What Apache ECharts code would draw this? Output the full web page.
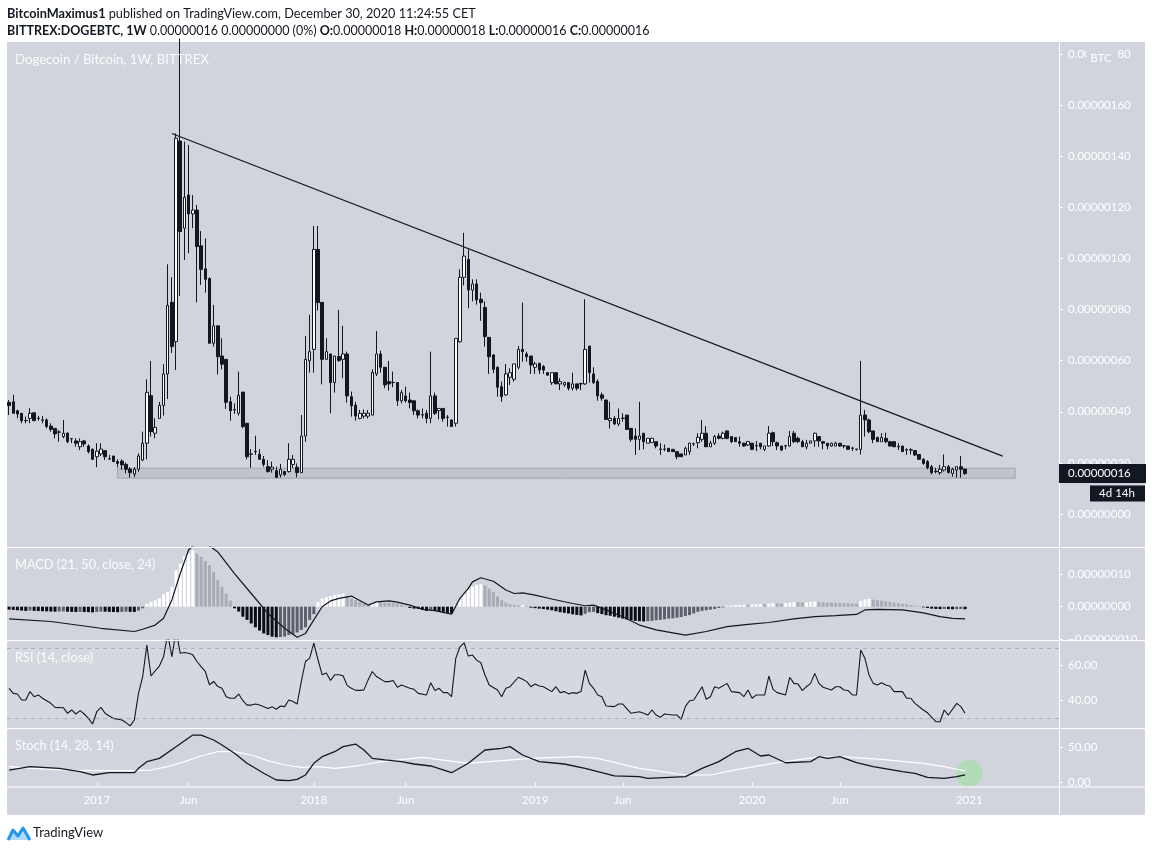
<!DOCTYPE html>
<html><head><meta charset="utf-8">
<script src="https://cdn.jsdelivr.net/npm/echarts@6/dist/echarts.min.js"></script>
<style>html,body{margin:0;padding:0;background:#fff}#c{width:1152px;height:852px}</style>
</head><body><div id="c"></div>
<script>
// ---------- DATA (prices in satoshi = 1e-8 BTC) ----------
const firstWeekUTC = Date.UTC(2016, 7, 8);
const weekCount = 252;
const tickLabels = {'2017-01-02':'2017','2017-06-05':'Jun','2018-01-01':'2018','2018-06-04':'Jun',
  '2019-01-07':'2019','2019-06-03':'Jun','2020-01-06':'2020','2020-06-01':'Jun','2021-01-04':'2021'};

// [open, close, low, high]
const candles = [
[43.7,42.4,38.7,44.6],[43.9,39.4,39.4,46.6],[40.4,39.1,37.4,40.8],[39.4,36.5,35.5,39.4],[36.6,36.5,35.5,38.1],
[37.4,39.4,35.5,41.4],[39.6,36.5,36.5,39.8],[37.5,37.4,36.5,38.4],[36.8,36.7,35.5,38.4],[36.8,34.2,33.5,37.4],
[34.4,33.1,32.2,35.5],[33.5,31.3,29.6,33.5],[32.1,32.0,28.3,32.9],[30.3,31.6,29.6,36.8],[31.6,28.3,27.7,32.0],
[29.5,29.4,27.7,29.5],[28.6,27.7,26.3,29.6],[26.3,28.3,25.0,29.6],[28.6,27.4,26.3,29.0],[26.6,24.4,23.7,27.2],
[25.3,21.4,21.1,25.7],[22.4,24.6,18.3,27.7],[23.5,25.4,22.7,27.7],[24.8,22.4,21.1,25.0],[21.6,21.5,21.1,23.1],
[22.7,20.5,20.5,22.7],[20.5,19.8,18.3,21.4],[20.7,19.2,17.2,21.4],[19.4,17.5,15.9,20.1],[17.6,16.2,14.2,18.3],
[15.6,17.5,14.4,18.3],[17.5,22.7,16.5,23.7],[21.1,27.7,20.7,32.2],[27.7,47.6,21.4,52.7],[46.3,32.2,30.3,59.9],
[31.6,33.9,29.6,37.4],[37.4,42.5,37.4,43.9],[42.5,54.8,38.5,58.6],[54.8,81.6,45.0,97.7],[82.8,65.5,63.0,92.6],
[67.4,147.0,56.3,148.9],[145.9,110.5,85.3,186.0],[111.8,123.9,99.4,145.7],[124.8,117.4,102.0,144.4],[117.4,118.9,111.8,124.8],
[118.9,104.6,82.8,120.9],[104.9,95.7,89.6,110.7],[95.9,91.8,86.6,107.8],[92.1,66.8,66.8,92.6],[66.8,73.6,65.5,81.8],
[73.6,61.5,54.6,73.6],[61.8,58.6,56.6,68.7],[60.5,43.7,41.1,60.5],[43.9,40.4,36.5,45.9],[40.8,40.7,39.1,43.3],
[39.4,46.4,38.5,55.7],[47.7,34.2,33.5,47.7],[35.5,22.4,21.4,35.5],[23.5,23.4,18.1,25.4],[24.5,24.4,23.1,30.6],
[23.4,21.4,21.4,25.4],[21.4,19.4,18.5,22.7],[18.5,16.6,16.2,21.1],[17.5,18.3,16.2,20.5],[16.9,14.3,14.3,18.5],
[15.3,17.5,14.3,19.6],[16.6,15.5,14.8,16.9],[16.6,21.4,16.2,27.7],[19.4,21.4,17.9,23.1],[18.3,16.2,14.3,19.8],
[16.2,30.5,16.2,38.7],[30.5,60.5,28.3,69.6],[59.9,63.5,55.3,77.9],[64.4,103.5,55.3,112.7],[103.5,82.7,79.6,112.7],
[82.8,60.5,50.7,82.8],[60.5,63.5,60.5,68.7],[62.6,51.4,39.4,62.6],[51.4,61.8,47.5,61.8],[61.6,60.0,59.6,79.8],
[60.5,62.6,53.1,73.6],[62.6,46.2,43.6,63.5],[45.9,42.3,38.1,47.9],[42.6,38.3,36.5,43.9],[37.4,39.4,37.0,40.7],
[38.3,39.4,37.4,40.9],[38.3,39.4,37.4,40.7],[38.7,55.4,38.7,56.6],[54.8,62.6,54.0,71.6],[62.6,57.4,55.3,63.9],
[57.4,50.5,49.2,57.4],[51.8,50.9,48.3,59.9],[51.5,51.4,49.6,55.7],[51.4,44.3,42.3,51.4],[44.3,47.5,43.3,48.5],
[46.2,44.3,43.6,49.8],[44.6,43.6,41.3,47.5],[44.3,40.4,38.7,44.3],[40.4,38.7,37.4,40.9],[38.8,38.7,37.4,41.3],
[39.4,37.4,35.5,40.7],[37.4,46.2,35.5,63.5],[46.2,39.4,38.7,47.5],[40.4,41.3,37.0,41.3],[41.3,37.4,36.1,41.3],
[37.9,37.8,34.2,38.7],[36.8,34.2,34.2,36.8],[35.5,68.7,34.2,68.7],[67.4,92.6,67.0,95.7],[92.6,100.9,89.4,110.0],
[99.6,87.6,80.5,103.5],[87.6,90.0,83.2,91.8],[90.0,83.8,81.9,91.8],[84.0,82.7,75.6,86.6],[80.8,69.4,65.5,83.2],
[69.1,61.5,54.8,69.1],[62.2,56.6,55.1,62.6],[57.4,49.6,45.9,57.7],[49.8,45.9,43.9,51.8],[46.6,54.8,46.2,58.7],
[53.5,55.3,50.5,57.0],[52.7,58.7,51.8,58.7],[57.4,64.4,56.6,65.7],[64.4,63.5,59.6,82.7],[62.6,61.5,59.6,63.5],
[61.8,58.3,54.8,61.8],[57.4,58.7,54.8,59.6],[59.0,56.3,54.8,59.0],[57.7,56.3,54.8,58.3],[55.3,54.3,54.3,55.3],
[51.4,55.3,50.5,55.3],[55.3,50.9,50.9,55.3],[50.9,51.8,48.5,53.1],[50.5,51.4,49.8,51.8],[51.4,49.2,48.3,51.4],
[49.2,50.9,48.3,55.3],[50.9,49.2,48.3,50.9],[51.0,50.9,48.5,51.4],[50.9,64.4,50.5,84.0],[65.7,55.3,51.4,65.7],
[54.8,51.4,50.9,57.4],[51.8,46.2,44.3,52.7],[46.6,45.3,44.3,47.5],[44.6,37.0,36.8,44.6],[36.5,37.4,33.5,43.9],
[37.4,35.2,34.8,38.3],[35.2,37.4,34.4,41.3],[37.5,37.4,36.1,39.4],[38.7,33.1,32.9,38.7],[33.5,29.2,28.3,33.5],
[30.5,29.2,23.1,33.5],[29.2,30.5,25.0,43.9],[31.6,28.3,25.3,31.6],[27.7,29.6,27.7,29.6],[28.0,29.6,27.7,29.8],
[28.3,26.6,25.7,28.3],[25.4,25.3,23.1,27.7],[25.4,25.3,24.6,27.2],[25.7,24.4,24.4,25.7],[25.3,24.4,24.4,25.3],
[24.4,22.4,21.4,24.4],[23.5,22.4,22.4,23.5],[23.1,25.7,23.1,26.3],[24.4,27.7,23.1,27.9],[27.4,27.5,26.6,27.9],
[27.9,30.0,25.7,31.6],[29.2,31.6,28.3,36.8],[31.6,26.3,26.3,34.4],[26.3,27.7,26.3,28.6],[27.7,30.3,27.0,30.9],
[30.5,29.6,29.2,31.6],[29.6,31.6,29.2,32.2],[32.5,29.6,29.2,32.5],[30.3,28.3,27.7,30.3],[29.9,28.3,28.3,29.9],
[28.3,27.7,26.3,30.3],[27.7,26.6,26.3,27.9],[27.0,28.3,26.6,28.6],[27.7,25.3,25.0,27.7],[26.7,26.6,24.6,28.6],
[27.7,26.3,25.3,27.7],[25.3,26.6,24.6,26.6],[26.6,31.6,26.3,34.4],[31.8,28.3,26.6,32.2],[27.9,26.6,25.0,28.3],
[26.6,25.0,24.6,26.6],[26.7,26.6,25.3,27.0],[26.6,30.3,26.3,32.5],[31.6,28.3,27.7,32.5],[29.6,28.3,27.7,30.3],
[28.3,26.3,26.3,29.0],[26.3,27.7,25.3,29.0],[27.7,28.6,27.7,28.6],[28.6,31.6,26.3,31.8],[30.3,28.6,26.3,30.3],
[28.3,27.7,25.3,28.6],[27.7,26.6,25.3,27.7],[26.6,27.7,26.3,27.9],[26.6,27.7,26.6,28.3],[27.7,26.6,26.3,27.7],
[26.7,26.6,25.7,26.7],[26.6,25.3,25.0,26.6],[25.8,25.7,24.6,26.3],[25.4,25.3,24.8,25.4],[25.3,38.7,23.3,59.9],
[38.7,36.8,30.3,40.7],[36.8,32.2,31.6,37.4],[32.5,29.2,27.7,32.5],[29.9,28.3,28.3,30.3],[28.3,29.9,28.3,31.6],
[29.6,28.3,27.7,31.8],[28.3,26.6,26.3,28.6],[28.3,26.3,26.3,28.3],[26.4,26.3,25.0,27.7],[26.6,24.4,24.4,26.6],
[25.1,25.0,23.1,25.7],[25.1,25.0,23.3,25.7],[24.8,23.1,22.7,24.8],[23.3,21.4,21.1,23.3],[21.4,19.8,19.2,21.8],
[20.5,18.1,17.5,21.1],[18.5,16.2,15.5,19.2],[16.7,16.6,15.9,18.1],[16.2,17.5,15.3,19.2],[17.2,18.5,16.6,23.3],
[18.5,16.2,15.9,19.2],[15.9,17.5,14.6,18.1],[17.2,18.5,14.2,18.5],[18.5,17.5,14.2,22.7],[17.6,15.8,15.3,17.6]
];

const macdHist = [
-0.9,-1.0,-1.1,-1.2,-1.3,-1.2,-1.3,-1.35,-1.4,-1.45,
-1.5,-1.55,-1.5,-1.45,-1.55,-1.6,-1.65,-1.6,-1.65,-1.7,
-1.75,-1.6,-1.5,-1.55,-1.6,-1.65,-1.7,-1.6,-1.55,-1.6,
-1.65,-1.2,-0.5,0.8,1.5,2.0,2.6,3.8,4.6,6.2,
11.3,13.4,15.7,16.5,17.5,16.5,15.5,14.2,12.9,10.8,
8.3,6.2,4.1,1.9,-0.5,-1.5,-3.1,-4.1,-5.2,-6.4,
-7.4,-8.3,-8.8,-9.3,-9.5,-9.4,-9.3,-8.8,-8.6,-8.0,
-7.2,-6.4,-4.1,-2.3,1.5,2.6,2.9,3.3,3.6,3.9,
4.1,3.3,2.6,2.1,1.5,1.0,0.5,1.2,1.5,1.4,
1.3,1.2,1.1,1.0,0.7,0.3,-0.4,-0.6,-0.7,-1.0,
-1.3,-1.0,-1.3,-1.5,-1.6,-1.9,-2.0,0.5,2.0,3.8,
5.3,6.2,6.8,7.0,6.6,5.6,4.5,3.2,2.0,1.3,
0.8,0.6,0.4,0.5,0.2,-0.3,-0.45,-0.6,-0.75,-0.9,
-1.1,-1.4,-1.7,-1.9,-2.1,-2.35,-2.55,-2.7,-2.2,-1.7,
-1.6,-2.0,-2.3,-2.65,-2.8,-3.1,-3.4,-3.7,-4.0,-4.2,
-4.4,-4.5,-4.6,-4.5,-4.4,-4.2,-4.1,-3.9,-3.7,-3.6,
-3.4,-3.2,-2.9,-2.6,-2.1,-1.6,-1.3,-1.1,-0.9,-0.7,
-0.4,-0.2,0.3,0.4,0.5,0.55,0.6,0.55,0.7,0.8,
0.85,0.8,1.0,1.1,1.05,1.0,1.1,1.3,1.4,1.35,
1.3,1.4,1.5,1.6,1.5,1.4,1.3,1.25,1.2,1.15,
1.1,1.05,1.0,0.95,1.8,2.3,2.4,2.2,2.0,1.9,
1.7,1.5,1.3,1.1,0.9,0.7,0.5,0.3,0.1,-0.2,
-0.4,-0.6,-0.7,-0.75,-0.7,-0.75,-0.8,-0.75,-0.7,-0.8
];

// [week index, value]
const macdLine = [[0,-3.8],[10,-4.6],[18,-6.0],[22,-6.7],[30,-7.7],[32,-7.0],[35,-5.7],[37,-3.6],[39,2.1],[41,10.3],
[43,17.6],[45,20.1],[47,19.8],[50,17.0],[54,10.3],[58,4.1],[62,-2.1],[66,-6.7],[69,-9.5],[71,-8.3],[73,-4.1],[75,0.0],
[77,1.8],[79,2.6],[82,3.3],[86,0.5],[88,1.5],[91,1.8],[93,1.4],[96,0.5],[99,-0.8],[102,-1.2],[106,-2.3],[108,2.6],
[110,5.7],[111,7.7],[113,9.0],[116,7.9],[119,5.2],[121,4.1],[123,4.3],[126,3.6],[130,2.4],[135,1.0],[138,0.3],[140,0.5],
[143,-1.0],[147,-3.1],[151,-5.7],[155,-7.2],[162,-8.8],[167,-7.7],[172,-6.2],[177,-5.5],[182,-4.9],[188,-3.8],[193,-3.1],
[198,-2.8],[203,-2.4],[205,-1.0],[208,-0.8],[214,-1.0],[219,-1.9],[223,-3.1],[226,-3.6],[229,-3.8]];

const rsiLine = [[0,47.1],[1,44.2],[2,43.8],[3,40.4],[4,40.4],[5,45.2],[6,42.3],[7,43.3],[8,41.4],[10,38.5],[11,36.2],
[13,36.0],[14,32.8],[15,34.7],[16,32.4],[17,34.3],[18,32.4],[19,29.9],[20,26.7],[21,33.7],[22,36.2],[23,32.8],[24,31.3],
[25,29.9],[27,29.0],[28,27.5],[29,25.6],[30,29.0],[31,44.2],[32,53.7],[33,71.8],[34,54.1],[35,57.1],[36,59.8],[37,65.1],
[38,78],[39,65.1],[40,80],[41,67.1],[42,67.5],[43,67.1],[44,66.2],[45,62.4],[46,59.5],[47,56.7],[48,49.1],[49,51.0],
[50,48.1],[51,47.1],[52,42.3],[53,41.4],[54,41.4],[55,43.8],[56,40.0],[57,37.5],[58,37.5],[59,38.1],[60,37.5],[61,36.6],
[62,35.6],[63,36.6],[64,35.1],[65,37.0],[66,36.6],[67,40.4],[68,39.5],[69,38.1],[70,51.0],[71,62.4],[72,64.3],[73,72.9],
[74,63.4],[75,54.8],[76,55.8],[77,51.6],[78,54.8],[79,54.8],[80,54.3],[81,48.6],[82,47.1],[83,45.9],[84,45.9],[85,46.2],
[86,51.9],[87,56.7],[88,53.8],[90,50.9],[91,50.9],[92,51.5],[93,47.7],[94,49.0],[96,47.1],[97,46.5],[98,44.2],[100,43.3],
[101,50.3],[102,45.8],[103,47.1],[104,44.6],[105,44.6],[106,42.3],[107,64.2],[108,70.8],[109,73.1],[110,65.5],[111,66.1],
[112,63.2],[113,61.7],[114,54.7],[115,49.0],[117,46.1],[118,42.3],[119,47.1],[120,48.0],[122,53.4],[123,52.2],[124,50.9],
[125,48.0],[126,49.5],[127,48.4],[128,48.0],[130,45.2],[131,48.0],[132,44.6],[133,45.2],[134,43.9],[135,44.6],[136,44.2],
[137,45.2],[138,57.5],[139,49.9],[140,47.1],[141,43.3],[142,42.3],[143,37.0],[145,36.6],[146,38.1],[147,38.1],[149,32.8],
[151,33.7],[152,32.8],[153,31.8],[154,34.7],[155,31.8],[156,30.5],[157,32.4],[159,31.8],[160,31.8],[161,29.4],[162,36.6],
[163,40.0],[164,40.4],[166,48.0],[167,40.8],[168,42.3],[169,48.0],[170,47.1],[172,49.9],[173,45.2],[175,44.6],[176,42.3],
[177,46.1],[178,41.4],[179,43.3],[181,43.3],[182,54.1],[183,46.5],[184,44.6],[186,43.3],[187,53.4],[188,49.9],[189,49.5],
[190,45.8],[191,48.0],[192,49.9],[193,55.6],[194,49.9],[195,47.7],[197,46.1],[198,48.0],[199,48.0],[200,46.1],[201,45.8],
[202,43.3],[203,43.3],[204,69.0],[205,64.2],[206,54.7],[207,49.9],[208,49.0],[209,50.3],[210,49.0],[211,48.4],[212,45.2],
[214,45.2],[215,41.4],[216,41.4],[217,38.5],[219,34.7],[220,33.1],[222,28.0],[223,28.0],[224,34.7],[225,31.8],[227,38.5],
[228,36.6],[229,32.8]];

const stochK = [[0,17.9],[5,22.6],[12,20.3],[17,15.5],[20,10.9],[24,14.1],[30,14.1],[31,20.3],[33,29.7],[36,34.4],
[40,50.9],[44,67.3],[46,67.3],[49,60.3],[51,53.2],[54,41.5],[57,27.4],[61,13.3],[64,3.8],[67,2.8],[69,4.7],[71,10.9],
[73,27.4],[75,36.7],[78,43.8],[80,50.9],[83,54.6],[85,46.2],[87,34.4],[90,32.1],[94,29.7],[97,26.4],[101,23.6],[106,14.1],
[110,27.4],[114,46.2],[118,48.6],[120,50.9],[123,39.1],[127,29.7],[133,26.4],[138,20.3],[145,9.5],[151,8.5],[153,6.2],
[162,8.5],[166,20.3],[170,29.7],[174,43.8],[177,48.6],[180,37.7],[182,39.1],[186,28.2],[192,29.7],[194,36.7],[196,34.4],
[199,36.7],[203,28.2],[207,22.6],[214,15.5],[217,13.3],[220,7.6],[224,6.2],[227,8.5],[229,10.9]];

const stochD = [[0,22.6],[6,20.3],[14,17.9],[22,17.0],[30,17.0],[34,17.9],[38,22.6],[42,29.7],[46,37.7],[50,43.8],
[54,43.8],[58,39.1],[62,31.1],[66,25.0],[70,21.7],[74,22.6],[78,20.3],[82,22.6],[86,26.4],[89,29.5],[99,35.8],[110,27.4],
[115,29.7],[125,34.4],[136,36.7],[141,34.4],[151,20.3],[162,10.9],[168,10.9],[174,18.0],[183,27.4],[193,35.8],[199,36.7],
[209,33.0],[219,27.4],[224,22.6],[229,16.5]];

const trendLine = [[39,148.86],[238,22.63]];
const supportZone = [[26,17.9],[241,14.0]];
const priceTicks = [0,20,40,60,80,100,120,140,160,180];
const macdTicks = [-10,0,10];
const rsiTicks = [40,60];
const rsiLevels = [30,70];
const stochTicks = [0,50];
const circleMark = [[230,13.3]];

// ---------- CHART ----------
const weeks = [];
for (let k = 0; k < weekCount; k++) weeks.push(new Date(firstWeekUTC + k * 7 * 86400000).toISOString().slice(0,10));

const BG = '#d1d4dc', INK = '#131722', FONT = 'Lato, "Liberation Sans", sans-serif';
const L = 7, R = 93;
const grids = [
  {left:L, right:R, top:42, height:505},
  {left:L, right:R, top:547, height:93},
  {left:L, right:R, top:640, height:88.3},
  {left:L, right:R, top:728.3, height:58.4}
];
const isTick = (i, v) => Object.prototype.hasOwnProperty.call(tickLabels, v);
const xAxes = grids.map((g, k) => ({
  type:'category', gridIndex:k, data:weeks, boundaryGap:true, show: k === 3,
  axisLine:{show:false},
  axisTick:{show:k===3, interval:isTick, alignWithLabel:true, length:3, lineStyle:{color:'#ffffff'}},
  axisLabel:{show:k===3, interval:isTick, formatter:v => tickLabels[v] || '', color:'#ffffff', fontSize:11.5, fontFamily:FONT, margin:8},
  splitLine:{show:false}
}));
function yAx(k, min, max, ticks, fmt) {
  return {type:'value', gridIndex:k, position:'right', min, max,
    axisLine:{show:false}, splitLine:{show:false},
    axisTick:{show:true, length:4, lineStyle:{color:'#ffffff'}, customValues:ticks},
    axisLabel:{color:'#ffffff', fontSize:11.5, fontFamily:FONT, margin:9, customValues:ticks, formatter:fmt}};
}
const satFmt = v => (v < 0 ? '\u2212' : '') + (Math.abs(v) / 1e8).toFixed(8);
const yAxes = [
  yAx(0, -12.91, 184.65, priceTicks, satFmt),
  yAx(1, -10.34, 18.54, macdTicks, satFmt),
  yAx(2, 24.23, 74.69, rsiTicks, v => v.toFixed(2)),
  yAx(3, -5.65, 76.84, stochTicks, v => v.toFixed(2))
];

const histData = macdHist.map((v, i) => {
  const p = i > 0 ? macdHist[i-1] : v;
  let c;
  if (v >= 0) c = v >= p ? '#ffffff' : '#a9acb5';
  else c = v <= p ? '#0b0d14' : '#5d606b';
  return {value:v, itemStyle:{color:c}};
});

const chart = echarts.init(document.getElementById('c'), null, {renderer:'canvas'});
chart.setOption({
  animation:false,
  backgroundColor:'#ffffff',
  grid:grids,
  xAxis:xAxes,
  yAxis:yAxes,
  series:[
    {type:'candlestick', xAxisIndex:0, yAxisIndex:0, data:candles, barWidth:3, clip:true,
     itemStyle:{color:'#ffffff', color0:INK, borderColor:INK, borderColor0:INK, borderWidth:1},
     markArea:{silent:true, itemStyle:{color:'rgba(150,154,166,0.28)', borderColor:'#a3a6af', borderWidth:1},
       data:[[{coord:supportZone[0]},{coord:supportZone[1]}]]},
     markLine:{silent:true, symbol:['none','none'], label:{show:false}, animation:false,
       lineStyle:{color:INK, width:1.3, type:'solid'},
       data:[[{coord:trendLine[0]},{coord:trendLine[1]}]]}
    },
    {type:'bar', xAxisIndex:1, yAxisIndex:1, data:histData, barWidth:3},
    {type:'line', xAxisIndex:1, yAxisIndex:1, data:macdLine, symbol:'none', lineStyle:{color:INK, width:1.2}},
    {type:'line', xAxisIndex:2, yAxisIndex:2, data:rsiLine, symbol:'none', lineStyle:{color:INK, width:1.1},
     markArea:{silent:true, itemStyle:{color:'rgba(255,255,255,0.1)'}, data:[[{yAxis:rsiLevels[0]},{yAxis:rsiLevels[1]}]]},
     markLine:{silent:true, symbol:['none','none'], label:{show:false},
       lineStyle:{color:'rgba(140,143,153,0.55)', width:1, type:[4,4]},
       data:rsiLevels.map(v => ({yAxis:v}))}
    },
    {type:'scatter', xAxisIndex:3, yAxisIndex:3, data:circleMark, symbolSize:27, z:1,
     itemStyle:{color:'#b4dbb8', opacity:1}},
    {type:'line', xAxisIndex:3, yAxisIndex:3, data:stochD, symbol:'none', z:3, lineStyle:{color:'#ffffff', width:1.2}},
    {type:'line', xAxisIndex:3, yAxisIndex:3, data:stochK, symbol:'none', z:4, lineStyle:{color:INK, width:1.3}}
  ]
});

const last = candles[candles.length - 1];
const py = chart.convertToPixel({yAxisIndex:0}, last[1]);
const lastLabel = satFmt(Math.round(last[1]));
const W = '#ffffff';
const txt = (x, y, text, size, fill, extra, z) => ({type:'text', z: z || 120, silent:true,
  style:Object.assign({x, y, text, fontSize:size, fontFamily:FONT, fill, align:'left', verticalAlign:'middle'}, extra || {})});
const hline = y => ({type:'line', z:130, silent:true, shape:{x1:7, y1:y, x2:1145, y2:y}, style:{stroke:W, lineWidth:1}});
const boldRich = size => ({b:{fontWeight:'bold', fontSize:size, fontFamily:FONT, fill:INK}});

chart.setOption({graphic:[
  {type:'rect', z:-10, silent:true, shape:{x:7, y:42, width:1138, height:773}, style:{fill:BG}},
  // covers for labels clipped by pane borders
  {type:'rect', z:110, silent:true, shape:{x:1060, y:640.5, width:85, height:7}, style:{fill:BG}},
  {type:'rect', z:110, silent:true, shape:{x:1060, y:787.2, width:85, height:7}, style:{fill:BG}},
  // separators
  {type:'line', z:130, silent:true, shape:{x1:1059.5, y1:42, x2:1059.5, y2:815}, style:{stroke:W, lineWidth:1}},
  hline(547.5), hline(640.5), hline(728.5), hline(787),
  // header
  txt(7, 14, '{b|BitcoinMaximus1} published on TradingView.com, December 30, 2020 11:24:55 CET', 12.7, INK,
      {rich:boldRich(12.7)}),
  txt(7, 31, '{b|BITTREX:DOGEBTC, 1W} 0.00000016 0.00000000 (0%) {b|O:}0.00000018 {b|H:}0.00000018 {b|L:}0.00000016 {b|C:}0.00000016', 12.5, INK,
      {rich:boldRich(12.5)}),
  // pane titles
  txt(15, 60, 'Dogecoin / Bitcoin, 1W, BITTREX', 13.2, 'rgba(255,255,255,0.9)'),
  txt(15, 565, 'MACD (21, 50, close, 24)', 12.8, 'rgba(255,255,255,0.9)'),
  txt(15, 658, 'RSI (14, close)', 12.8, 'rgba(255,255,255,0.9)'),
  txt(15, 746, 'Stoch (14, 28, 14)', 12.8, 'rgba(255,255,255,0.9)'),
  // BTC unit label
  {type:'rect', z:115, silent:true, shape:{x:1086, y:46, width:32, height:20}, style:{fill:BG}},
  txt(1101, 58, 'BTC', 11.5, W, {align:'center'}, 116),
  // last price tag
  {type:'rect', z:140, silent:true, shape:{x:1059, y:py-9.5, width:87, height:19}, style:{fill:INK}},
  txt(1068, py, lastLabel, 11.5, W, null, 141),
  {type:'rect', z:140, silent:true, shape:{x:1090, y:py+12, width:55, height:16}, style:{fill:INK}},
  txt(1117, py+20, '4d 14h', 11.5, W, {align:'center'}, 141),
  // footer logo
  {type:'polygon', z:119, silent:true, shape:{points:[[8,840],[13,830],[18,836],[23,828],[30,840]]},
   style:{fill:'rgba(33,150,243,0.35)'}},
  {type:'polyline', z:120, silent:true, shape:{points:[[8,840],[13,830],[18,836],[23,828],[30,840]]},
   style:{stroke:'#2196f3', lineWidth:3, fill:null, lineJoin:'round'}},
  txt(33, 833, 'TradingView', 13, INK)
]});
</script>
</body></html>
